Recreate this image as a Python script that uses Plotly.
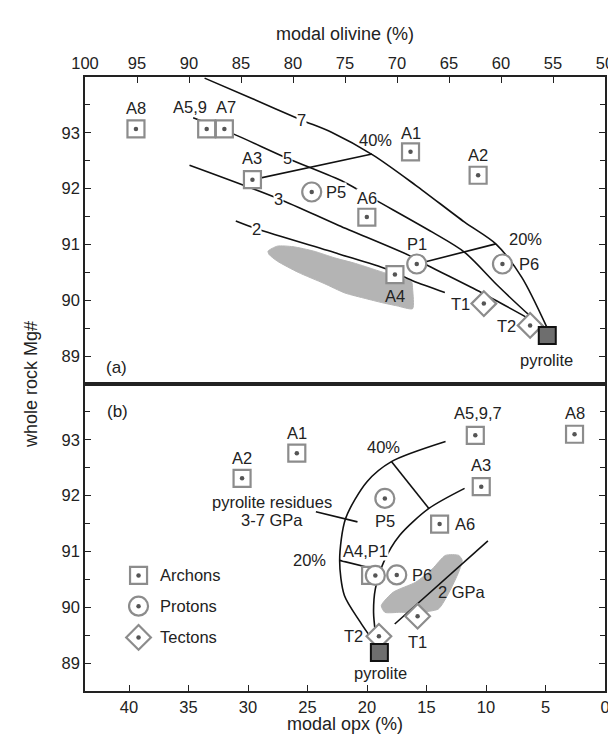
import plotly.graph_objects as go

# ---------------- data: panel (a) modal olivine vs Mg# ----------------
a_arch_names = ["A8", "A5,9", "A7", "A3", "A1", "A2", "A6", "A4"]
a_arch_ol = [95.1, 88.3, 86.6, 83.9, 68.7, 62.2, 72.9, 70.2]
a_arch_mg = [93.07, 93.07, 93.07, 92.16, 92.66, 92.24, 91.49, 90.46]
a_prot_names = ["P5", "P1", "P6"]
a_prot_ol = [78.2, 68.1, 59.86]
a_prot_mg = [91.94, 90.65, 90.65]
a_tect_names = ["T1", "T2"]
a_tect_ol = [61.65, 57.2]
a_tect_mg = [89.94, 89.55]
a_pyr_ol = [55.55]
a_pyr_mg = [89.37]

line7_ol = [88.5, 84.0, 79.2, 76.3, 72.3, 68.2, 63.5, 60.5, 58.0, 55.55]
line7_mg = [93.98, 93.62, 93.23, 93.01, 92.6, 92.06, 91.4, 91.01, 90.41, 89.5]
line5_ol = [89.6, 85.85, 80.5, 75.1, 72.0, 66.6, 63.5, 60.3, 57.2, 55.8]
line5_mg = [93.27, 92.99, 92.54, 92.12, 91.79, 91.22, 90.86, 90.26, 89.72, 89.5]
line3_ol = [89.95, 81.4, 75.6, 68.8, 67.0, 61.9, 57.5, 55.6]
line3_mg = [92.42, 91.82, 91.34, 90.8, 90.62, 90.14, 89.69, 89.5]
line2_ol = [85.5, 83.5, 75.6, 71.0, 68.5, 65.4]
line2_mg = [91.42, 91.28, 90.83, 90.56, 90.35, 90.14]
mix40_ol = [83.9, 72.4]
mix40_mg = [92.16, 92.62]
mix20_ol = [68.1, 60.5]
mix20_mg = [90.65, 91.01]
a_field_ol = [82.4, 81.5, 80.0, 78.0, 76.0, 74.0, 72.0, 70.0, 68.6, 68.5, 68.5,
              70.0, 71.5, 73.0, 75.0, 77.0, 79.5, 81.5, 82.3]
a_field_mg = [90.88, 90.97, 90.96, 90.88, 90.76, 90.66, 90.54, 90.42, 90.33, 90.2, 89.85,
              89.9, 89.96, 90.03, 90.13, 90.3, 90.5, 90.7, 90.82]

# ---------------- data: panel (b) modal opx vs Mg# ----------------
b_arch_names = ["A2", "A1", "A5,9,7", "A8", "A3", "A6", "A4"]
b_arch_opx = [30.5, 25.9, 10.9, 2.56, 10.4, 13.9, 19.7]
b_arch_mg = [92.31, 92.76, 93.08, 93.1, 92.16, 91.49, 90.57]
b_prot_names = ["P5", "P1", "P6"]
b_prot_opx = [18.5, 19.3, 17.5]
b_prot_mg = [91.95, 90.57, 90.58]
b_tect_names = ["T1", "T2"]
b_tect_opx = [15.75, 19.0]
b_tect_mg = [89.84, 89.48]
b_pyr_opx = [18.96]
b_pyr_mg = [89.19]

outer_opx = [13.4, 17.95, 20.0, 21.8, 22.3, 21.9, 20.55, 19.6, 19.2]
outer_mg = [92.97, 92.61, 92.25, 91.59, 90.84, 90.21, 89.73, 89.43, 89.3]
inner_opx = [11.8, 14.8, 17.25, 18.6, 19.3, 19.45, 19.3]
inner_mg = [92.13, 91.77, 91.29, 90.81, 90.33, 89.91, 89.55]
tie40_opx = [17.95, 14.8]
tie40_mg = [92.61, 91.77]
tie20_opx = [22.3, 19.45]
tie20_mg = [90.84, 90.69]
leader_opx = [24.3, 20.8]
leader_mg = [91.71, 91.53]
gpa2_opx = [9.84, 17.67]
gpa2_mg = [91.19, 89.7]
b_field_opx = [12.0, 12.3, 13.4, 14.5, 15.9, 17.8, 18.8, 18.5, 17.25, 15.6, 14.0, 13.1, 12.3]
b_field_mg = [90.84, 90.93, 90.93, 90.69, 90.45, 90.27, 90.03, 89.91, 89.91, 89.91, 89.97, 90.27, 90.63]

x_ol_ticks = [100, 95, 90, 85, 80, 75, 70, 65, 60, 55, 50]
x_opx_ticks = [40, 35, 30, 25, 20, 15, 10, 5, 0]
y_ticks = [89, 90, 91, 92, 93]

# ---------------- styles ----------------
FONT = "Liberation Sans, Arial, sans-serif"
TXT = "#222222"
GREY = "#8c8c8c"
DOT = "#555555"
FIELD = "#b4b4b4"
LINE = "#111111"
FS = 16.5      # label font size
TICK_FS = 16.5
TITLE_FS = 18

MT, MB = 69, 54
PLOT_H = 737 - MT - MB

fig = go.Figure()


def add_line(xs, ys, xa, ya, smooth=True):
    fig.add_trace(go.Scatter(x=xs, y=ys, mode="lines", xaxis=xa, yaxis=ya,
                             line=dict(color=LINE, width=1.6,
                                       shape="spline" if smooth else "linear",
                                       smoothing=0.8),
                             hoverinfo="skip", showlegend=False))


def add_field(xs, ys, xa, ya):
    fig.add_trace(go.Scatter(x=xs + xs[:1], y=ys + ys[:1], mode="lines", xaxis=xa, yaxis=ya,
                             fill="toself", fillcolor=FIELD,
                             line=dict(color=FIELD, width=1, shape="spline", smoothing=0.6),
                             hoverinfo="skip", showlegend=False))


def add_pts(xs, ys, symbol, size, xa, ya):
    fig.add_trace(go.Scatter(x=xs, y=ys, mode="markers", xaxis=xa, yaxis=ya,
                             marker=dict(symbol=symbol, size=size, color="white",
                                         line=dict(color=GREY, width=2.2)),
                             hoverinfo="skip", showlegend=False))
    fig.add_trace(go.Scatter(x=xs, y=ys, mode="markers", xaxis=xa, yaxis=ya,
                             marker=dict(symbol="circle", size=4.5, color=DOT, line=dict(width=0)),
                             hoverinfo="skip", showlegend=False))


def add_pyr(xs, ys, xa, ya):
    fig.add_trace(go.Scatter(x=xs, y=ys, mode="markers", xaxis=xa, yaxis=ya,
                             marker=dict(symbol="square", size=17, color="#6e6e6e",
                                         line=dict(color="#111111", width=2)),
                             hoverinfo="skip", showlegend=False))


annots = []


def lab(text, x, y, xr, yr, size=FS, bg=None, xanchor="center"):
    d = dict(text=text, x=x, y=y, xref=xr, yref=yr, showarrow=False,
             font=dict(family=FONT, size=size, color=TXT), xanchor=xanchor, yanchor="middle")
    if bg:
        d["bgcolor"] = bg
        d["borderpad"] = 0
    annots.append(d)


# ---- panel (a): xaxis2 / yaxis2 ----
add_field(a_field_ol, a_field_mg, "x2", "y2")
for xs, ys in [(line7_ol, line7_mg), (line5_ol, line5_mg), (line3_ol, line3_mg), (line2_ol, line2_mg)]:
    add_line(xs, ys, "x2", "y2")
add_line(mix40_ol, mix40_mg, "x2", "y2", smooth=False)
add_line(mix20_ol, mix20_mg, "x2", "y2", smooth=False)
add_pts(a_arch_ol, a_arch_mg, "square", 17, "x2", "y2")
add_pts(a_prot_ol, a_prot_mg, "circle", 19, "x2", "y2")
add_pts(a_tect_ol, a_tect_mg, "diamond", 19, "x2", "y2")
add_pyr(a_pyr_ol, a_pyr_mg, "x2", "y2")

# curve labels (a)
lab("7", 79.2, 93.23, "x2", "y2", bg="white")
lab("5", 80.5, 92.54, "x2", "y2", bg="white")
lab("3", 81.4, 91.82, "x2", "y2", bg="white")
lab("2", 83.5, 91.28, "x2", "y2", bg="white")
lab("40%", 72.1, 92.87, "x2", "y2")
lab("20%", 57.6, 91.1, "x2", "y2")
# point labels (a)
lab("A8", 95.1, 93.44, "x2", "y2")
lab("A5,9", 89.9, 93.46, "x2", "y2")
lab("A7", 86.4, 93.46, "x2", "y2")
lab("A3", 83.9, 92.54, "x2", "y2")
lab("P5", 75.9, 91.94, "x2", "y2", bg="white")
lab("A1", 68.7, 93.0, "x2", "y2")
lab("A2", 62.2, 92.6, "x2", "y2")
lab("A6", 72.9, 91.83, "x2", "y2", bg="white")
lab("P1", 68.05, 91.0, "x2", "y2")
lab("A4", 70.2, 90.07, "x2", "y2")
lab("P6", 57.3, 90.65, "x2", "y2")
lab("T1", 63.9, 89.94, "x2", "y2")
lab("T2", 59.5, 89.54, "x2", "y2")
lab("pyrolite", 55.6, 88.93, "x2", "y2")
lab("(a)", 97.0, 88.8, "x2", "y2", size=17)

# ---- panel (b): xaxis / yaxis ----
add_field(b_field_opx, b_field_mg, "x", "y")
add_line(outer_opx, outer_mg, "x", "y")
add_line(inner_opx, inner_mg, "x", "y")
add_line(tie40_opx, tie40_mg, "x", "y", smooth=False)
add_line(tie20_opx, tie20_mg, "x", "y", smooth=False)
add_line(leader_opx, leader_mg, "x", "y", smooth=False)
add_line(gpa2_opx, gpa2_mg, "x", "y", smooth=False)
add_pts(b_arch_opx, b_arch_mg, "square", 17, "x", "y")
add_pts(b_prot_opx, b_prot_mg, "circle", 19, "x", "y")
add_pts(b_tect_opx, b_tect_mg, "diamond", 19, "x", "y")
add_pyr(b_pyr_opx, b_pyr_mg, "x", "y")

# legend drawn in panel (b)
add_pts([39.2], [90.57], "square", 17, "x", "y")
add_pts([39.2], [90.02], "circle", 19, "x", "y")
add_pts([39.2], [89.46], "diamond", 19, "x", "y")
lab("Archons", 37.6, 90.57, "x", "y", xanchor="left")
lab("Protons", 37.6, 90.02, "x", "y", xanchor="left")
lab("Tectons", 37.6, 89.46, "x", "y", xanchor="left")

lab("A2", 30.5, 92.68, "x", "y")
lab("A1", 25.9, 93.12, "x", "y")
lab("A5,9,7", 10.7, 93.48, "x", "y")
lab("A8", 2.56, 93.48, "x", "y")
lab("A3", 10.4, 92.54, "x", "y")
lab("A6", 11.8, 91.49, "x", "y")
lab("P5", 18.5, 91.54, "x", "y")
lab("A4,P1", 20.1, 91.0, "x", "y", bg="white")
lab("P6", 15.4, 90.58, "x", "y")
lab("T1", 15.75, 89.37, "x", "y")
lab("T2", 21.1, 89.48, "x", "y")
lab("pyrolite", 18.9, 88.83, "x", "y")
lab("40%", 18.6, 92.88, "x", "y")
lab("20%", 24.8, 90.84, "x", "y")
lab("2 GPa", 12.0, 90.27, "x", "y")
lab("pyrolite residues", 28.0, 91.89, "x", "y")
lab("3-7 GPa", 28.0, 91.56, "x", "y")
lab("(b)", 41.0, 93.5, "x", "y", size=17)


def py(pix):
    """pixel row in the page -> paper y"""
    return (737 - MB - pix) / PLOT_H


# axis titles
annots.append(dict(text="modal olivine (%)", x=0.5, y=py(26), xref="paper", yref="paper",
                   showarrow=False, font=dict(family=FONT, size=TITLE_FS, color=TXT),
                   xanchor="center", yanchor="middle"))
annots.append(dict(text="modal opx (%)", x=0.5, y=py(716), xref="paper", yref="paper",
                   showarrow=False, font=dict(family=FONT, size=TITLE_FS, color=TXT),
                   xanchor="center", yanchor="middle"))
annots.append(dict(text="whole rock Mg#", x=-0.104, y=0.5, xref="paper", yref="paper",
                   showarrow=False, textangle=-90, font=dict(family=FONT, size=TITLE_FS, color=TXT),
                   xanchor="center", yanchor="middle"))

common_y = dict(range=[88.5, 94.0], tickvals=y_ticks, ticks="inside", ticklen=6, tickwidth=1.3,
                tickcolor=TXT, showline=True, linecolor=TXT, linewidth=1.6, mirror="ticks",
                showgrid=False, zeroline=False,
                tickfont=dict(family=FONT, size=TICK_FS, color=TXT),
                minor=dict(dtick=0.5, tick0=88.5, ticks="inside", ticklen=5, tickcolor=TXT,
                           tickwidth=1.2, showgrid=False))

fig.update_layout(
    width=616, height=737,
    margin=dict(l=77, r=10, t=MT, b=MB),
    paper_bgcolor="white", plot_bgcolor="white",
    showlegend=False,
    annotations=annots,
    xaxis=dict(domain=[0, 1], anchor="y", range=[43.7, 0], tickvals=x_opx_ticks,
               ticks="inside", ticklen=6, tickwidth=1.3, tickcolor=TXT,
               showline=True, linecolor=TXT, linewidth=1.6, mirror=True,
               showgrid=False, zeroline=False,
               tickfont=dict(family=FONT, size=TICK_FS, color=TXT)),
    yaxis=dict(domain=[0, 0.5], anchor="x", **common_y),
    xaxis2=dict(domain=[0, 1], anchor="y2", side="top", range=[100, 50], tickvals=x_ol_ticks,
                ticks="inside", ticklen=6, tickwidth=1.3, tickcolor=TXT,
                showline=True, linecolor=TXT, linewidth=1.6, mirror=True,
                showgrid=False, zeroline=False,
                tickfont=dict(family=FONT, size=TICK_FS, color=TXT)),
    yaxis2=dict(domain=[0.5, 1], anchor="x2", **common_y),
)

fig.write_html("out.html")
